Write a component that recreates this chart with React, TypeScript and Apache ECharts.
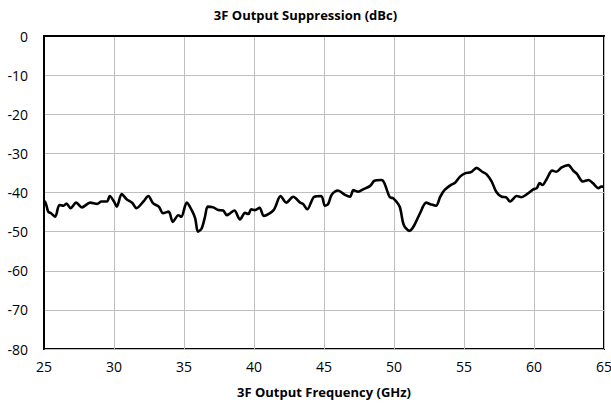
import React, { useEffect, useRef } from "react";
import * as echarts from "echarts";

const freqGHz: number[] = [
  25.0, 25.07, 25.3, 25.5, 25.8, 26.1, 26.4, 26.6, 26.9, 27.3, 27.7, 28.3, 28.8, 29.1, 29.5, 29.7, 30.0, 30.2,
  30.55, 30.9, 31.3, 31.6, 32.1, 32.45, 32.8, 33.2, 33.5, 33.9, 34.2, 34.6, 34.8, 35.2, 35.55, 35.8, 36.0,
  36.26, 36.5, 36.7, 37.1, 37.45, 37.8, 38.05, 38.3, 38.6, 39.0, 39.36, 39.6, 39.8, 40.07, 40.4, 40.7, 41.4,
  41.9, 42.3, 42.8, 43.3, 43.5, 43.8, 44.3, 44.8, 45.07, 45.3, 45.55, 46.0, 46.5, 46.86, 47.1, 47.45, 47.8,
  48.3, 48.6, 49.1, 49.3, 49.7, 49.95, 50.4, 50.7, 51.1, 51.4, 51.86, 52.3, 52.6, 53.0, 53.3, 53.6, 54.05,
  54.36, 54.7, 55.07, 55.5, 55.9, 56.3, 56.6, 56.98, 57.3, 57.7, 58.0, 58.3, 58.76, 59.1, 59.5, 59.95, 60.2,
  60.4, 60.6, 60.9, 61.3, 61.6, 61.98, 62.45, 62.8, 63.05, 63.5, 63.9, 64.2, 64.6, 64.8, 65.0,
];
const suppressionDbc: number[] = [
  -42.8, -42.3, -44.9, -45.3, -46.2, -43.2, -43.4, -42.8, -44.0, -42.6, -43.8, -42.6, -42.9, -42.3, -42.3, -40.9, -42.3, -43.6,
  -40.4, -41.7, -42.6, -44.0, -42.3, -40.9, -42.8, -43.6, -45.3, -44.9, -47.5, -45.8, -46.2, -42.6, -44.5, -46.6, -50.0,
  -49.2, -46.2, -43.6, -43.8, -44.5, -44.6, -45.8, -45.3, -44.6, -46.9, -45.2, -45.5, -44.3, -44.5, -43.9, -46.0, -44.5,
  -40.9, -42.6, -41.1, -42.6, -42.9, -44.3, -41.1, -40.9, -43.4, -42.9, -40.6, -39.5, -40.6, -41.1, -39.4, -39.8, -39.2,
  -38.3, -37.0, -36.8, -37.5, -41.2, -41.5, -43.6, -48.3, -49.8, -48.7, -45.3, -42.6, -43.0, -43.4, -41.1, -39.4, -38.1,
  -37.5, -36.0, -35.1, -34.8, -33.7, -34.7, -35.3, -37.2, -39.8, -41.1, -41.2, -42.3, -40.9, -41.2, -40.4, -39.2, -38.9,
  -37.6, -38.1, -36.6, -34.4, -34.7, -33.6, -33.0, -34.4, -35.2, -37.2, -36.8, -37.6, -38.9, -38.5, -38.5,
];

const titleText = "3F Output Suppression (dBc)";
const xAxisTitle = "3F Output Frequency (GHz)";

export default function App() {
  const ref = useRef<HTMLDivElement>(null);
  useEffect(() => {
    if (!ref.current) return;
    const chart = echarts.init(ref.current, null, { renderer: "svg" });
    const font = "'Open Sans', 'Noto Sans', sans-serif";
    chart.setOption({
      animation: false,
      backgroundColor: "#ffffff",
      title: {
        text: titleText,
        left: "center",
        top: 3,
        textStyle: { fontFamily: font, fontSize: 13, fontWeight: "bold", color: "#000" },
      },
      grid: {
        left: 44,
        right: 7,
        top: 36,
        bottom: 56,
        containLabel: false,
        outerBoundsMode: "none",
        show: true,
        borderColor: "#000",
        borderWidth: 2,
      },
      xAxis: {
        type: "value",
        min: 25,
        max: 65,
        interval: 5,
        name: xAxisTitle,
        nameLocation: "middle",
        nameGap: 36,
        nameTextStyle: { fontFamily: font, fontSize: 13, fontWeight: "bold", color: "#000" },
        axisLine: { show: true, lineStyle: { color: "#000", width: 2 } },
        axisTick: { show: false },
        axisLabel: { fontFamily: font, fontSize: 14, color: "#000", margin: 10 },
        splitLine: { show: true, lineStyle: { color: "#bfbfbf", width: 1 } },
      },
      yAxis: {
        type: "value",
        min: -80,
        max: 0,
        interval: 10,
        axisLine: { show: true, lineStyle: { color: "#000", width: 2 } },
        axisTick: { show: false },
        axisLabel: { fontFamily: font, fontSize: 14, color: "#000", margin: 16 },
        splitLine: { show: true, lineStyle: { color: "#bfbfbf", width: 1 } },
      },
      series: [
        {
          type: "line",
          data: freqGHz.map((f, i) => [f, suppressionDbc[i]]),
          showSymbol: false,
          smooth: 0.3,
          lineStyle: { color: "#000", width: 2.6 },
        },
      ],
    });
    return () => chart.dispose();
  }, []);
  return (
    <div
      ref={ref}
      style={{ position: "absolute", left: 0, top: 0, width: 611, height: 405 }}
    />
  );
}
